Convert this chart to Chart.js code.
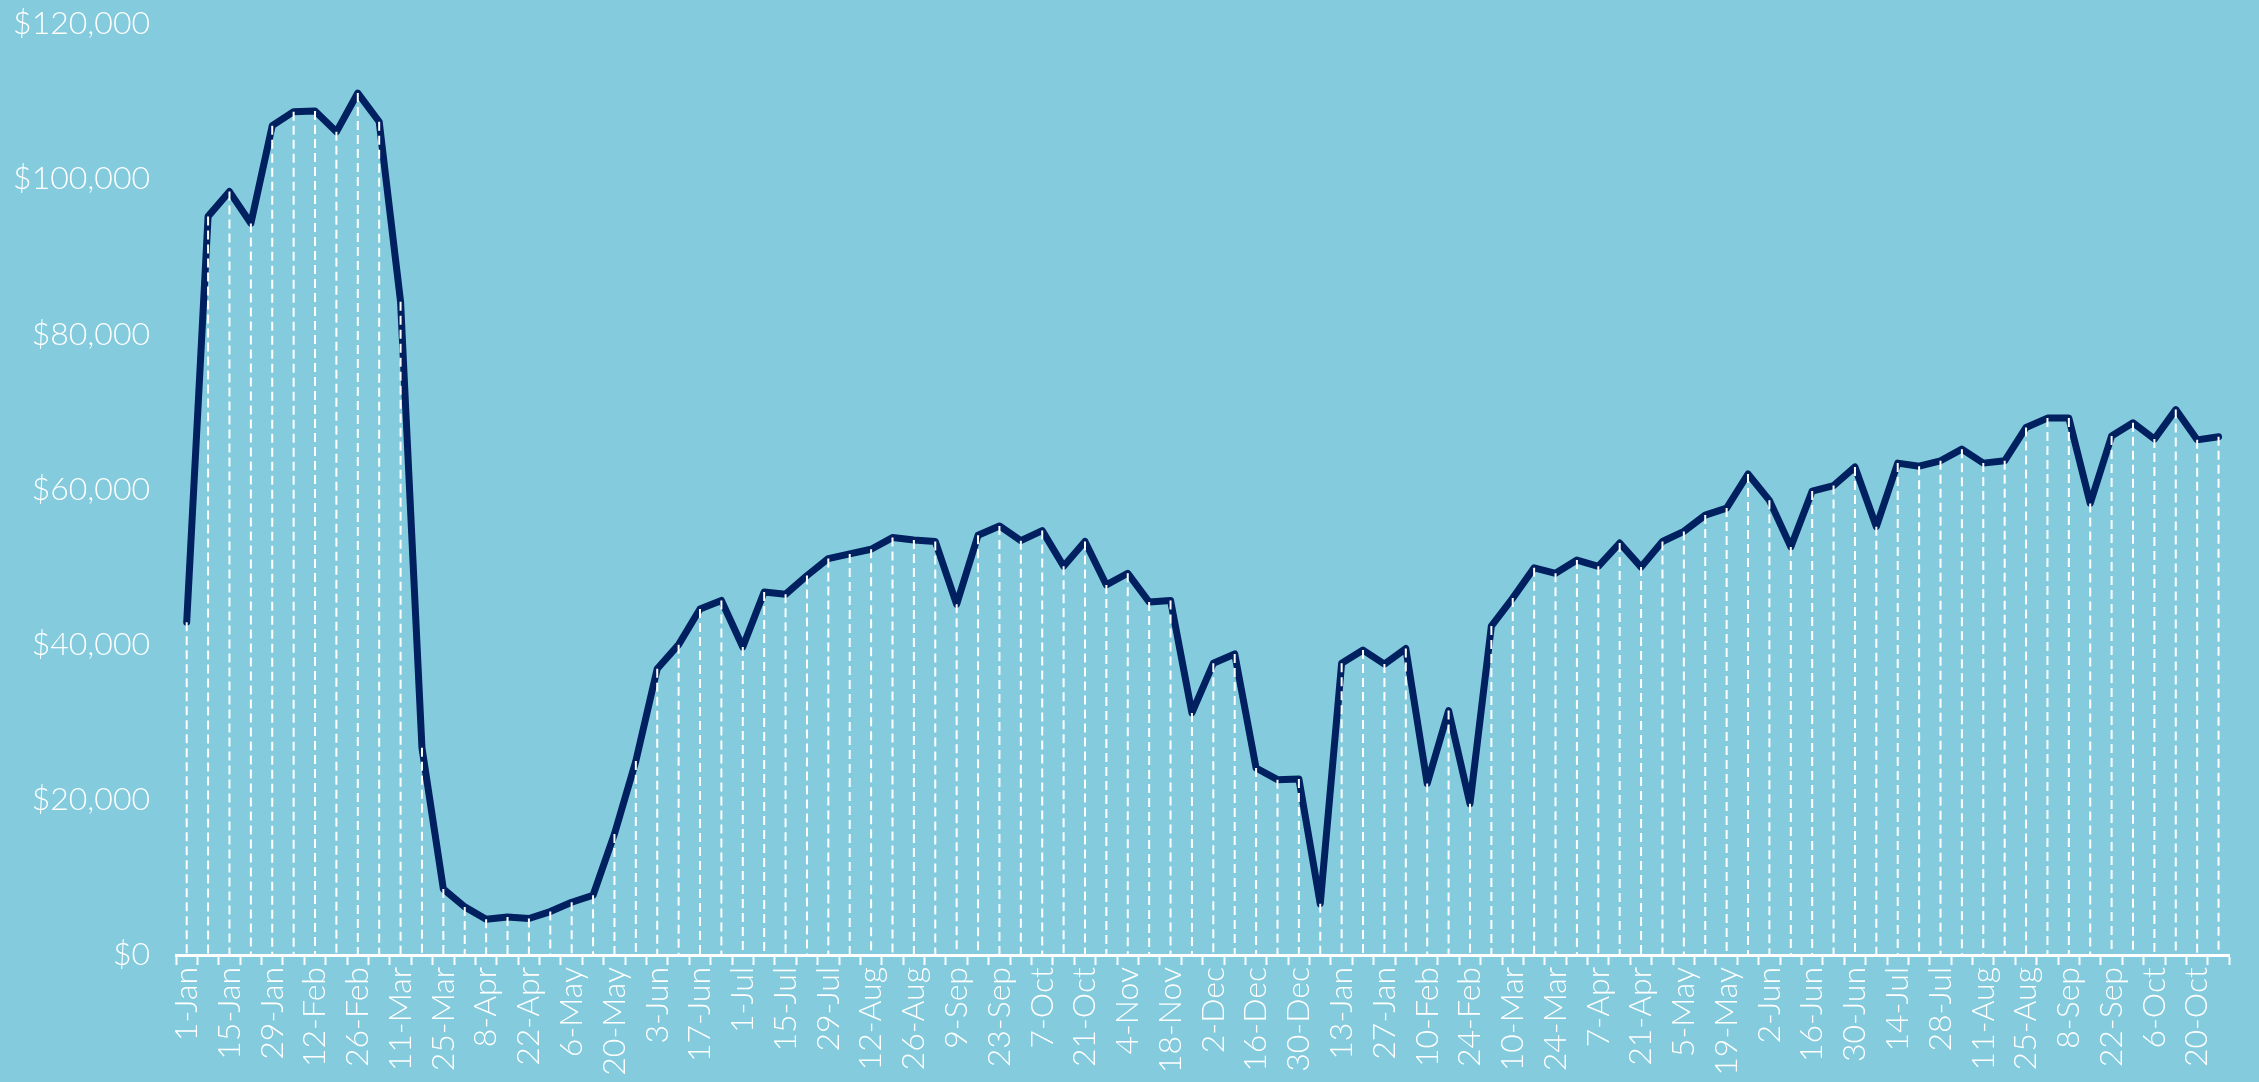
<!DOCTYPE html>
<html>
<head>
<meta charset="utf-8">
<script src="https://cdn.jsdelivr.net/npm/chart.js@4.4.1/dist/chart.umd.min.js"></script>
<style>
  html, body { margin: 0; padding: 0; background: #83CBDD; }
  #wrap { width: 2259px; height: 1082px; }
  canvas { display: block; }
</style>
</head>
<body>
<div id="wrap"><canvas id="c" width="2259" height="1082"></canvas></div>
<script>
// Weekly categories (Wednesdays, Jan 2020 – Oct 2021)
const weekLabels = [
  '1-Jan','8-Jan','15-Jan','22-Jan','29-Jan','5-Feb','12-Feb','19-Feb','26-Feb','4-Mar',
  '11-Mar','18-Mar','25-Mar','1-Apr','8-Apr','15-Apr','22-Apr','29-Apr','6-May','13-May',
  '20-May','27-May','3-Jun','10-Jun','17-Jun','24-Jun','1-Jul','8-Jul','15-Jul','22-Jul',
  '29-Jul','5-Aug','12-Aug','19-Aug','26-Aug','2-Sep','9-Sep','16-Sep','23-Sep','30-Sep',
  '7-Oct','14-Oct','21-Oct','28-Oct','4-Nov','11-Nov','18-Nov','25-Nov','2-Dec','9-Dec',
  '16-Dec','23-Dec','30-Dec','6-Jan','13-Jan','20-Jan','27-Jan','3-Feb','10-Feb','17-Feb',
  '24-Feb','3-Mar','10-Mar','17-Mar','24-Mar','31-Mar','7-Apr','14-Apr','21-Apr','28-Apr',
  '5-May','12-May','19-May','26-May','2-Jun','9-Jun','16-Jun','23-Jun','30-Jun','7-Jul',
  '14-Jul','21-Jul','28-Jul','4-Aug','11-Aug','18-Aug','25-Aug','1-Sep','8-Sep','15-Sep',
  '22-Sep','29-Sep','6-Oct','13-Oct','20-Oct','27-Oct'
];

// Weekly values in dollars
const weeklyValues = [
  42900, 95200, 98400, 94300, 106900, 108700, 108800, 106100, 111100, 107400,
  84200, 26700, 8500, 6200, 4600, 4900, 4700, 5600, 6800, 7700,
  15600, 25000, 36900, 40000, 44600, 45700, 39700, 46800, 46500, 48900,
  51100, 51700, 52300, 53800, 53500, 53300, 45200, 54100, 55300, 53400,
  54700, 50100, 53300, 47700, 49200, 45500, 45700, 31200, 37600, 38800,
  24100, 22600, 22700, 6600, 37600, 39300, 37500, 39500, 22100, 31500,
  19500, 42400, 46000, 49900, 49200, 50900, 50100, 53100, 50000, 53300,
  54600, 56700, 57600, 62000, 58600, 52600, 59800, 60500, 62900, 55200,
  63400, 63000, 63700, 65200, 63400, 63700, 68000, 69200, 69200, 58200,
  66900, 68600, 66500, 70300, 66400, 66800
];

// Y axis range / tick step
const yMin = 0;
const yMax = 120000;
const yStep = 20000;

const FONT = { family: 'Lato, "Open Sans", sans-serif', size: 32, weight: 300 };

const dropLines = {
  id: 'dropLines',
  afterDatasetsDraw(chart) {
    const meta = chart.getDatasetMeta(0);
    const bottom = chart.chartArea.bottom;
    const ctx = chart.ctx;
    ctx.save();
    ctx.strokeStyle = '#ffffff';
    ctx.lineWidth = 2;
    ctx.setLineDash([9, 5]);
    meta.data.forEach(pt => {
      ctx.beginPath();
      ctx.moveTo(pt.x, pt.y);
      ctx.lineTo(pt.x, bottom);
      ctx.stroke();
    });
    ctx.restore();
  }
};

new Chart(document.getElementById('c'), {
  type: 'line',
  data: {
    labels: weekLabels,
    datasets: [{
      data: weeklyValues,
      borderColor: '#002060',
      borderWidth: 7,
      borderJoinStyle: 'round',
      borderCapStyle: 'round',
      pointRadius: 0,
      tension: 0,
      fill: false
    }]
  },
  options: {
    responsive: false,
    animation: false,
    layout: { padding: { top: 24, right: 9, left: 0, bottom: 0 } },
    plugins: { legend: { display: false }, tooltip: { enabled: false } },
    scales: {
      x: {
        type: 'category',
        offset: true,
        afterFit: s => { s.height = 127; },
        grid: {
          display: true,
          drawOnChartArea: false,
          drawTicks: true,
          tickLength: 10,
          tickWidth: 2,
          tickColor: '#ffffff',
          color: '#ffffff',
          offset: true
        },
        border: { display: true, color: '#ffffff', width: 3 },
        ticks: {
          autoSkip: false,
          minRotation: 90,
          maxRotation: 90,
          padding: 2,
          color: '#ffffff',
          font: FONT,
          callback: (v, i) => (i % 2 === 0 ? weekLabels[i] : '')
        }
      },
      y: {
        min: yMin,
        max: yMax,
        afterFit: s => { s.width = 176; s.paddingTop = 0; s.paddingBottom = 0; },
        grid: { display: false, drawTicks: false },
        border: { display: false },
        ticks: {
          stepSize: yStep,
          padding: 26,
          color: '#ffffff',
          font: FONT,
          callback: v => '$' + Number(v).toLocaleString('en-US')
        }
      }
    }
  },
  plugins: [dropLines]
});
</script>
</body>
</html>
